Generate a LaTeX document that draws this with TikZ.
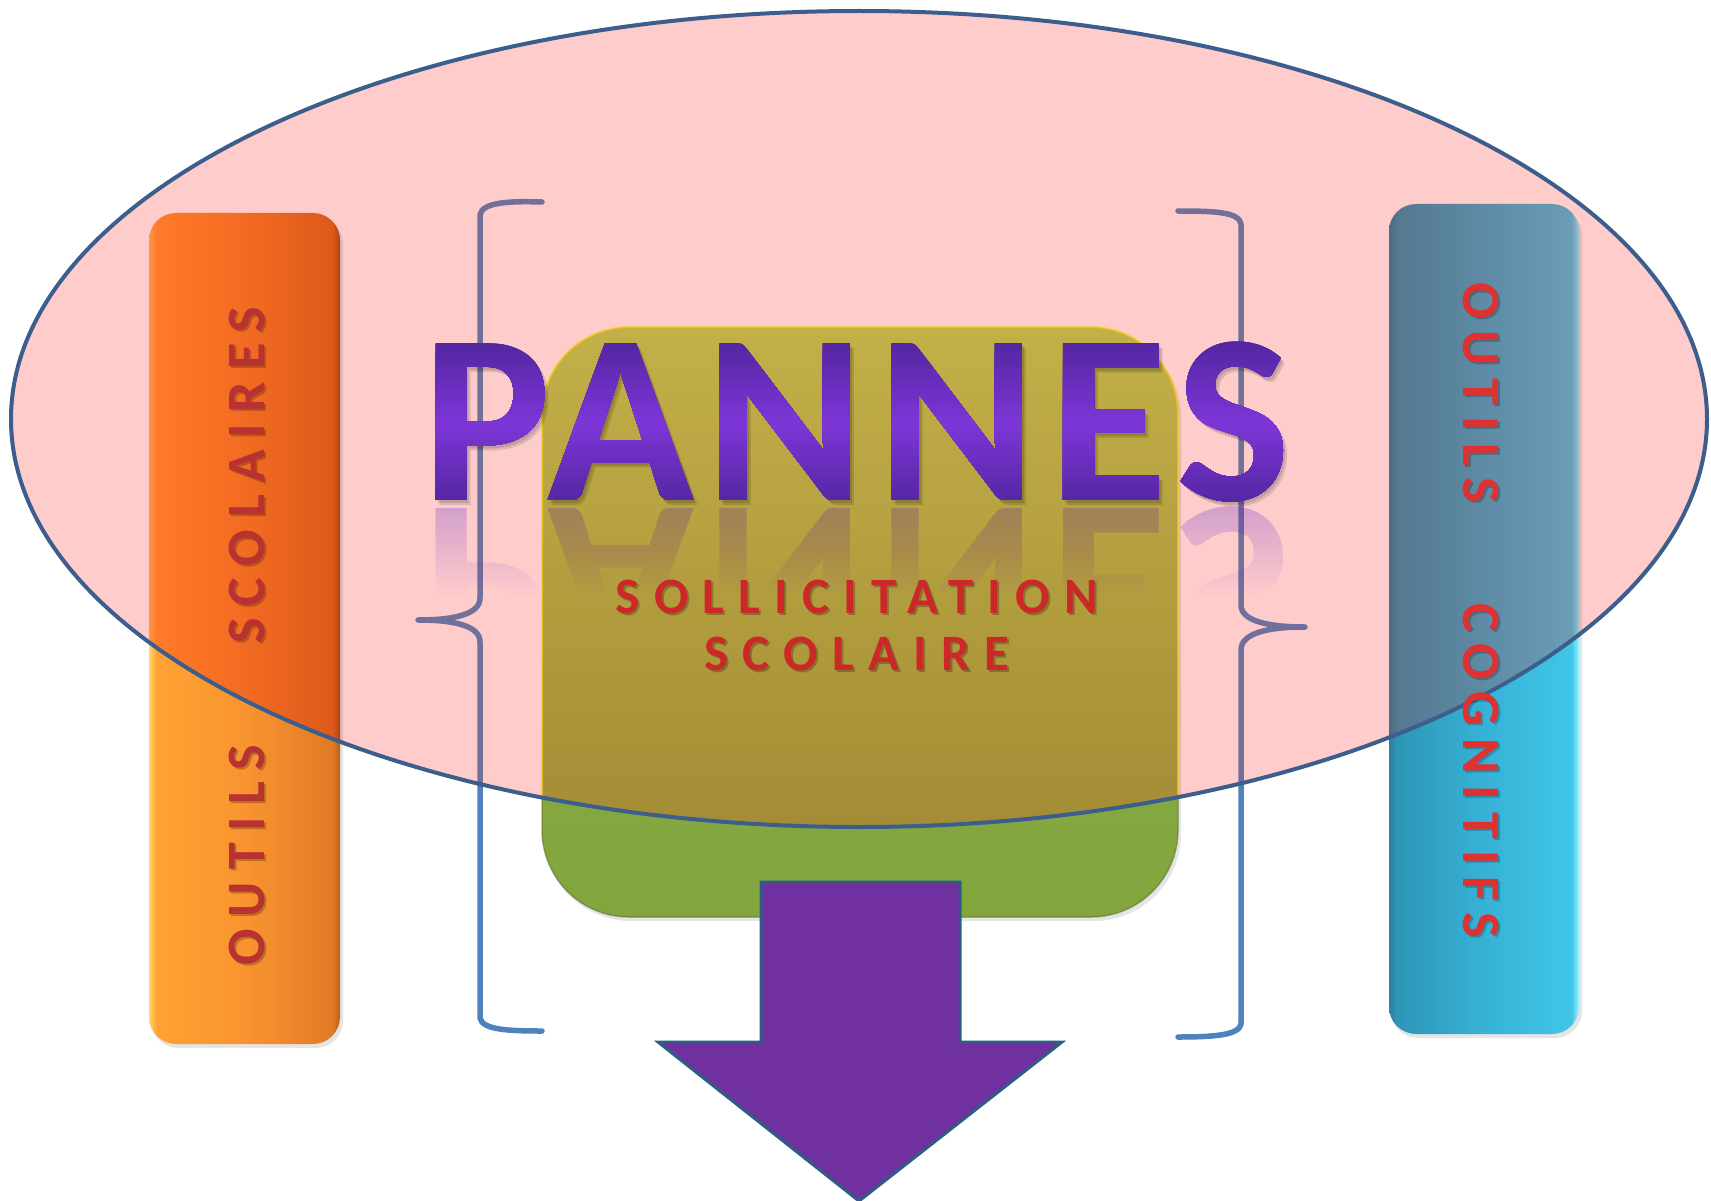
\documentclass[tikz,border=0pt]{standalone}
\usepackage{fontspec}
\setmainfont{Carlito}
\newfontfamily\panfont[LetterSpace=5]{Carlito}
\newfontfamily\sollfont[LetterSpace=28]{Carlito}
\newfontfamily\barfont[LetterSpace=22]{Carlito}
\definecolor{pinkE}{HTML}{FFCCCC}
\definecolor{ellLine}{HTML}{3B5E8C}
\definecolor{orA}{HTML}{FFD46A}\definecolor{orB}{HTML}{FFA233}\definecolor{orC}{HTML}{F99430}\definecolor{orD}{HTML}{E27A26}\definecolor{orE}{HTML}{B85F1C}
\definecolor{ouA}{HTML}{FF9448}\definecolor{ouB}{HTML}{FF7A2A}\definecolor{ouC}{HTML}{F26B22}\definecolor{ouD}{HTML}{DE5A1B}\definecolor{ouE}{HTML}{A84414}
\definecolor{cyA}{HTML}{2A7E9C}\definecolor{cyB}{HTML}{2E96B6}\definecolor{cyC}{HTML}{36B2D6}\definecolor{cyD}{HTML}{40C6E8}\definecolor{cyE}{HTML}{9AF4FF}
\definecolor{cuA}{HTML}{4C6A80}\definecolor{cuB}{HTML}{54788F}\definecolor{cuC}{HTML}{5E8BA5}\definecolor{cuD}{HTML}{6A9DB6}\definecolor{cuE}{HTML}{9AC6D4}
\definecolor{boxGa}{HTML}{8DAF45}\definecolor{boxGb}{HTML}{83A53E}
\definecolor{boxOa}{HTML}{C2B048}\definecolor{boxOb}{HTML}{9E8632}
\definecolor{braceBlue}{HTML}{4F81BD}\definecolor{braceIn}{HTML}{70709A}
\definecolor{arrowFill}{HTML}{7030A0}\definecolor{arrowLine}{HTML}{2F5C85}
\definecolor{redL}{HTML}{B83232}\definecolor{redR}{HTML}{E03030}\definecolor{redS}{HTML}{CC2828}
\definecolor{pdark}{HTML}{5226A0}\definecolor{plight}{HTML}{7E36D8}
\pgfdeclarehorizontalshading{orangelow}{100bp}{color(0bp)=(orA); color(25bp)=(orA); color(27bp)=(orB); color(50bp)=(orC); color(73bp)=(orD); color(75bp)=(orE); color(100bp)=(orE)}
\pgfdeclarehorizontalshading{orangeup}{100bp}{color(0bp)=(ouA); color(25bp)=(ouA); color(27bp)=(ouB); color(50bp)=(ouC); color(73bp)=(ouD); color(75bp)=(ouE); color(100bp)=(ouE)}
\pgfdeclarehorizontalshading{cyanlow}{100bp}{color(0bp)=(cyA); color(25bp)=(cyA); color(27bp)=(cyB); color(50bp)=(cyC); color(73bp)=(cyD); color(75bp)=(cyE); color(100bp)=(cyE)}
\pgfdeclarehorizontalshading{cyanup}{100bp}{color(0bp)=(cuA); color(25bp)=(cuA); color(27bp)=(cuB); color(50bp)=(cuC); color(73bp)=(cuD); color(75bp)=(cuE); color(100bp)=(cuE)}
\tikzset{
  pantext/.style={font=\panfont\bfseries\fontsize{242}{250}\selectfont, inner sep=0pt, anchor=base},
  solltext/.style={font=\sollfont\bfseries\fontsize{51}{55}\selectfont, inner sep=0pt, anchor=base},
  bartext/.style={font=\barfont\bfseries\fontsize{54}{58}\selectfont, inner sep=0pt, anchor=center},
  bracestyle/.style={line width=5.5pt, line cap=round, line join=round},
  barshadow/.style={fill=black, opacity=.10},
}
\begin{document}
\begin{tikzpicture}[x=1pt,y=-1pt]
\useasboundingbox (0,0) rectangle (1711,1201);
\fill[white] (0,0) rectangle (1711,1201);
% ellipse background
\fill[pinkE] (859,419) ellipse [x radius=848, y radius=408];
% soft shadows
\fill[barshadow, rounded corners=27pt] (151,217) rectangle (343,1048);
\fill[barshadow, rounded corners=27pt] (1391,208) rectangle (1582,1038);
\fill[barshadow, rounded corners=87pt] (544,331) rectangle (1181,921);
% bars and box (normal colours)
\shade[shading=orangelow, rounded corners=27pt] (149,213) rectangle (340,1044);
\shade[shading=cyanlow, rounded corners=27pt] (1389,204) rectangle (1579,1034);
\shade[top color=boxGa, bottom color=boxGb, rounded corners=87pt] (542,327) rectangle (1178,917);
\draw[boxGb!60!black, opacity=.45, line width=1.5pt, rounded corners=87pt] (542,327) rectangle (1178,917);
% braces
\draw[bracestyle, braceBlue] (542,202) .. controls (510,201) and (482,202) .. (480,215) -- (480,598) .. controls (480,614) and (455,620) .. (418,620) .. controls (455,620) and (480,626) .. (480,642) -- (480,1018) .. controls (482,1030) and (510,1031) .. (542,1031);
\draw[bracestyle, braceBlue] (1178,211) .. controls (1215,211) and (1239,212) .. (1241,224) -- (1241,605) .. controls (1241,620) and (1265,627) .. (1305,627) .. controls (1265,627) and (1241,634) .. (1241,650) -- (1241,1024) .. controls (1239,1035) and (1215,1037) .. (1178,1037);
% parts inside the ellipse
\begin{scope}
\clip (859,419) ellipse [x radius=848, y radius=408];
\fill[pinkE] (0,0) rectangle (1711,1201);
\fill[barshadow, rounded corners=27pt] (151,217) rectangle (343,1048);
\fill[barshadow, rounded corners=27pt] (1391,208) rectangle (1582,1038);
\fill[barshadow, rounded corners=87pt] (544,331) rectangle (1181,921);
\shade[shading=orangeup, rounded corners=27pt] (149,213) rectangle (340,1044);
\shade[shading=cyanup, rounded corners=27pt] (1389,204) rectangle (1579,1034);
\shade[top color=boxOa, bottom color=boxOb, rounded corners=87pt] (542,327) rectangle (1178,917);
\draw[yellow!70!orange, opacity=.6, line width=2pt, rounded corners=87pt] (542,327) rectangle (1178,917);
\draw[bracestyle, braceIn] (542,202) .. controls (510,201) and (482,202) .. (480,215) -- (480,598) .. controls (480,614) and (455,620) .. (418,620) .. controls (455,620) and (480,626) .. (480,642) -- (480,1018) .. controls (482,1030) and (510,1031) .. (542,1031);
\draw[bracestyle, braceIn] (1178,211) .. controls (1215,211) and (1239,212) .. (1241,224) -- (1241,605) .. controls (1241,620) and (1265,627) .. (1305,627) .. controls (1265,627) and (1241,634) .. (1241,650) -- (1241,1024) .. controls (1239,1035) and (1215,1037) .. (1178,1037);
\end{scope}
% ellipse outline
\draw[ellLine, line width=4pt] (859,419) ellipse [x radius=848, y radius=408];
% arrow
\draw[arrowLine, fill=arrowFill, line width=3pt, line join=miter] (761,882) -- (960,882) -- (960,1042) -- (1062,1042) -- (859,1201) -- (658,1042) -- (761,1042) -- cycle;
% PANNES reflection: stacked faint copies, each from the top down to a lower edge
\foreach \k in {1,...,22} {
  \pgfmathsetmacro\yb{506+\k*4}
  \begin{scope}
  \clip (380,505) rectangle (1340,\yb);
  \node[pantext, yscale=-1, text=plight, opacity=0.013] at (857,508) {PANNES};
  \end{scope}
}
% PANNES soft shadow
\node[pantext, text=black, opacity=.12] (pannesshadow) at (861,505) {PANNES};
\node[pantext, text=black, opacity=.12] (pannesshadowb) at (859,503) {PANNES};
% PANNES with vertical gradient (each band runs to the bottom, later ones overwrite)
\node[pantext, text=pdark] (pannes) at (857,500) {PANNES};
\foreach \i in {0,...,39} {
  \pgfmathsetmacro\ya{340+\i*4.2}
  \pgfmathsetmacro\p{100-abs(\i-19.5)/19.5*100}
  \begin{scope}
  \clip (380,\ya) rectangle (1340,520);
  \node[pantext, text=plight!\p!pdark] (pannes\i) at (857,500) {PANNES};
  \end{scope}
}
% central text
\node[solltext, text=black, opacity=.25] (sollsh) at (859,615) {SOLLICITATION};
\node[solltext, text=redS] (soll) at (857,613) {SOLLICITATION};
\node[solltext, text=black, opacity=.25] (scolsh) at (859,672) {SCOLAIRE};
\node[solltext, text=redS] (scol) at (857,670) {SCOLAIRE};
% bar texts
\node[bartext, rotate=90, text=black, opacity=.22] at (249,857) {OUTILS};
\node[bartext, rotate=90, text=redL] (outilsL) at (247,855) {OUTILS};
\node[bartext, rotate=90, text=black, opacity=.22] at (249,477) {SCOLAIRES};
\node[bartext, rotate=90, text=redL] (scolaires) at (247,475) {SCOLAIRES};
\node[bartext, rotate=-90, text=black, opacity=.22] at (1483,395) {OUTILS};
\node[bartext, rotate=-90, text=redR] (outilsR) at (1481,393) {OUTILS};
\node[bartext, rotate=-90, text=black, opacity=.22] at (1483,773) {COGNITIFS};
\node[bartext, rotate=-90, text=redR] (cognitifs) at (1481,771) {COGNITIFS};
\end{tikzpicture}
\end{document}
